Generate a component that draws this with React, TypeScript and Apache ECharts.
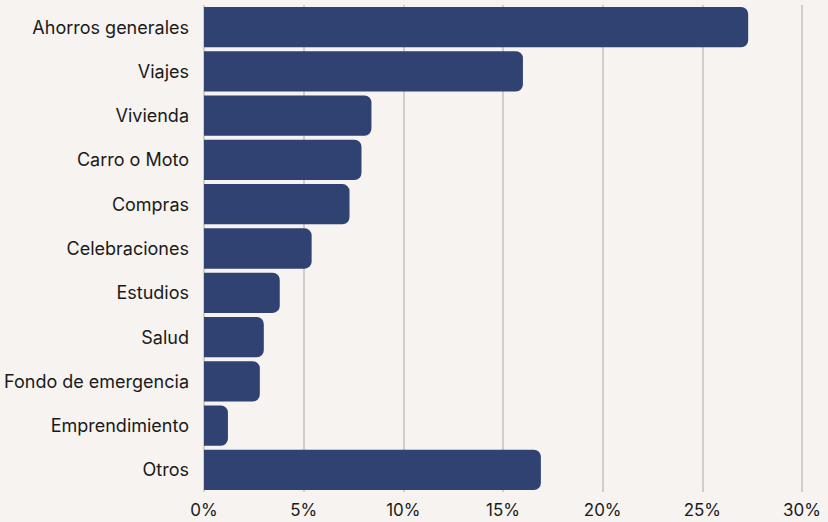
import React, { useEffect, useRef } from "react";
import * as echarts from "echarts";

const categories = [
  "Ahorros generales",
  "Viajes",
  "Vivienda",
  "Carro o Moto",
  "Compras",
  "Celebraciones",
  "Estudios",
  "Salud",
  "Fondo de emergencia",
  "Emprendimiento",
  "Otros",
];
const values = [27.3, 16.0, 8.4, 7.9, 7.3, 5.4, 3.8, 3.0, 2.8, 1.2, 16.9];

export default function App() {
  const ref = useRef<HTMLDivElement>(null);
  useEffect(() => {
    const chart = echarts.init(ref.current!, null, { renderer: "svg" });
    chart.setOption({
      animation: false,
      backgroundColor: "#f6f3f0",
      textStyle: { fontFamily: "Inter" },
      grid: { left: 204, right: 26, top: 5, bottom: 30, containLabel: false },
      xAxis: {
        type: "value",
        min: 0,
        max: 30,
        interval: 5,
        axisLine: { show: false },
        axisTick: { show: false },
        axisLabel: { formatter: "{value}%", color: "#1a1a1a", fontSize: 17, margin: 9, fontFamily: "Inter" },
        splitLine: { show: true, lineStyle: { color: "#c4c0bd", width: 1.5 } },
      },
      yAxis: {
        type: "category",
        data: categories,
        inverse: true,
        axisLine: { show: false },
        axisTick: { show: false },
        axisLabel: { color: "#1a1a1a", fontSize: 18, margin: 15, fontFamily: "Inter" },
      },
      series: [
        {
          type: "bar",
          data: values,
          barCategoryGap: "9%",
          itemStyle: { color: "#2f4272", borderRadius: [0, 7, 7, 0] },
        },
      ],
    });
    return () => chart.dispose();
  }, []);
  return <div ref={ref} style={{ width: 828, height: 522, position: "absolute", left: 0, top: 0 }} />;
}
